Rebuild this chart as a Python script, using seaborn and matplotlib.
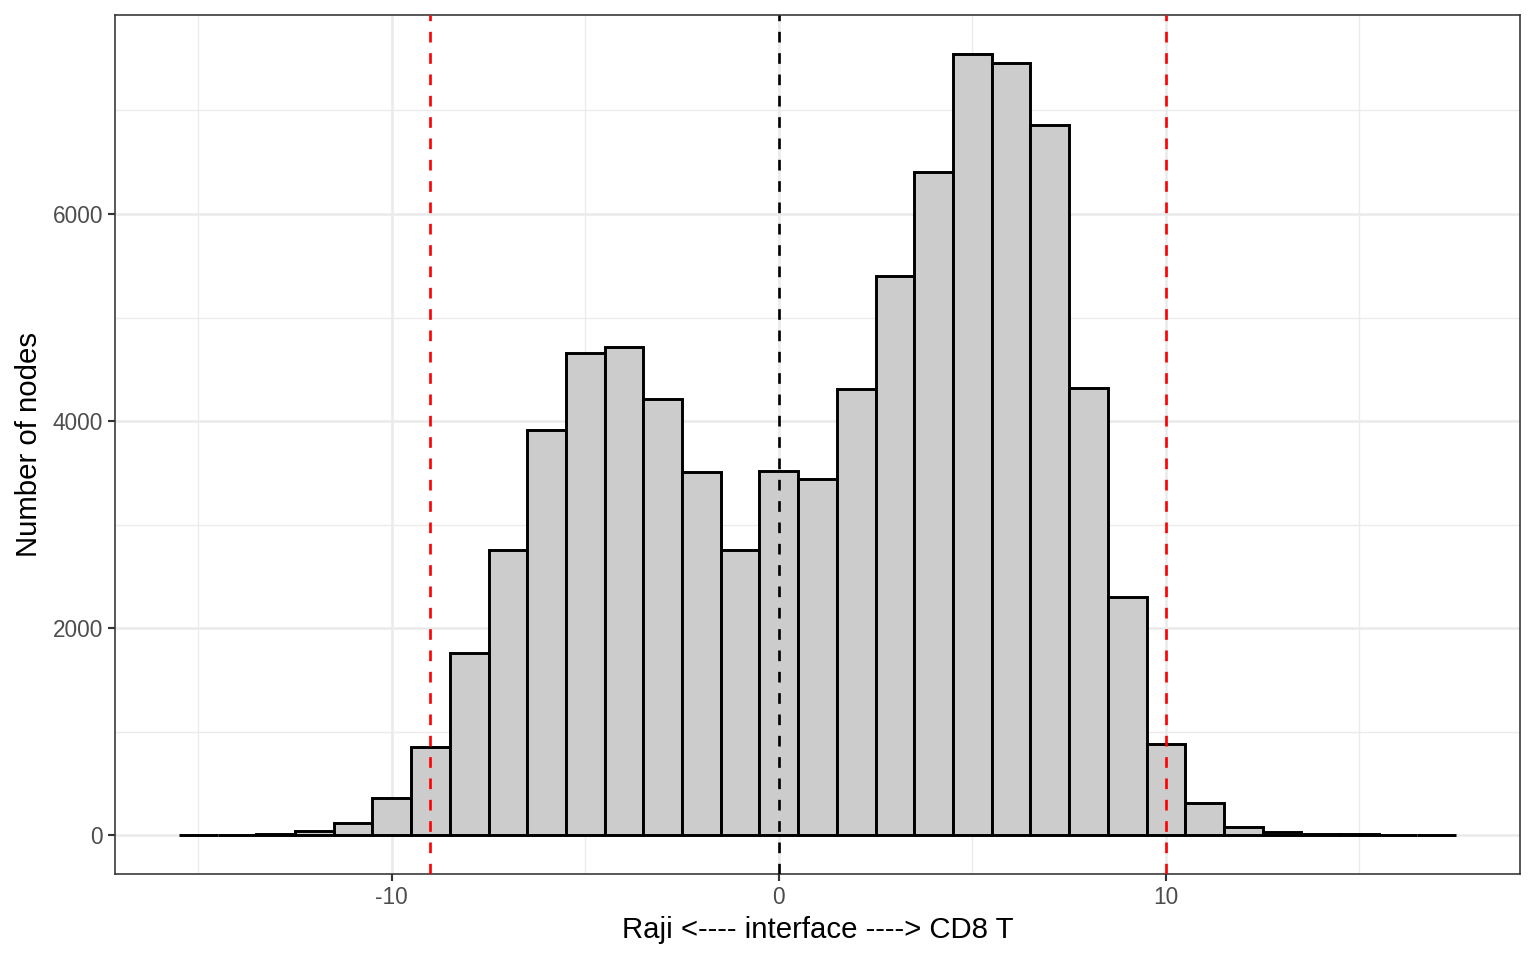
import pandas as pd
import seaborn as sns
import matplotlib.pyplot as plt
from matplotlib.ticker import FixedLocator

# bin centres (width 1) and counts
bin_centers = list(range(-15, 18))
node_counts = [0, 3, 10, 40, 120, 360, 850, 1760, 2760, 3915, 4655, 4715,
               4215, 3510, 2760, 3520, 3445, 4310, 5400, 6405, 7545, 7460,
               6855, 4320, 2300, 880, 310, 80, 30, 15, 10, 5, 2]
interface_line = 0
cutoff_lines = [-9, 10]

x_major = [-10, 0, 10]
x_minor = [-15, -5, 5, 15]
y_major = [0, 2000, 4000, 6000]
y_minor = [1000, 3000, 5000, 7000]

df = pd.DataFrame({'pos': bin_centers, 'n': node_counts})

sns.set_style("white")
plt.rcParams['font.family'] = ['Liberation Sans', 'DejaVu Sans']
plt.rcParams['axes.unicode_minus'] = False

fig, ax = plt.subplots(figsize=(16, 10), dpi=96)
fig.subplots_adjust(left=0.0749, right=0.9896, top=0.9844, bottom=0.0891)

lo, hi = min(bin_centers) - 0.5, max(bin_centers) + 0.5
sns.histplot(data=df, x='pos', weights='n', binwidth=1, binrange=(lo, hi), ax=ax,
             color="#CCCCCC", alpha=1, edgecolor="black", linewidth=2.2,
             zorder=2)

# reference lines (ggplot "dashed" = 4 on, 4 off)
ax.axvline(interface_line, color="black", linestyle=(0, (4, 4)), linewidth=2.0, zorder=3)
for x in cutoff_lines:
    ax.axvline(x, color="red", linestyle=(0, (4, 4)), linewidth=2.0, zorder=3)

# ggplot-like expansion of the scales
pad = 0.05 * (hi - lo)
ax.set_xlim(lo - pad, hi + pad)
ymax = max(node_counts)
ax.set_ylim(-0.05 * ymax, 1.05 * ymax)

ax.xaxis.set_major_locator(FixedLocator(x_major))
ax.xaxis.set_minor_locator(FixedLocator(x_minor))
ax.yaxis.set_major_locator(FixedLocator(y_major))
ax.yaxis.set_minor_locator(FixedLocator(y_minor))
ax.set_xticklabels([str(v) for v in x_major])
ax.set_yticklabels([str(v) for v in y_major])

ax.grid(which='major', color="#EBEBEB", linewidth=2.0, zorder=0)
ax.grid(which='minor', color="#EBEBEB", linewidth=1.0, zorder=0)
ax.set_axisbelow(True)

ax.tick_params(which='major', length=5.5, width=1.6, color="#333333",
               labelsize=17, labelcolor="#4D4D4D", pad=3.5, direction='out',
               bottom=True, left=True)
ax.tick_params(which='minor', length=0)
for s in ax.spines.values():
    s.set_color("#333333")
    s.set_linewidth(1.2)
    s.set_visible(True)

ax.set_xlabel("Raji <---- interface ----> CD8 T", fontsize=22, color="black", labelpad=5)
ax.set_ylabel("Number of nodes", fontsize=22, color="black", labelpad=7)

plt.savefig("out.png", dpi=96)
